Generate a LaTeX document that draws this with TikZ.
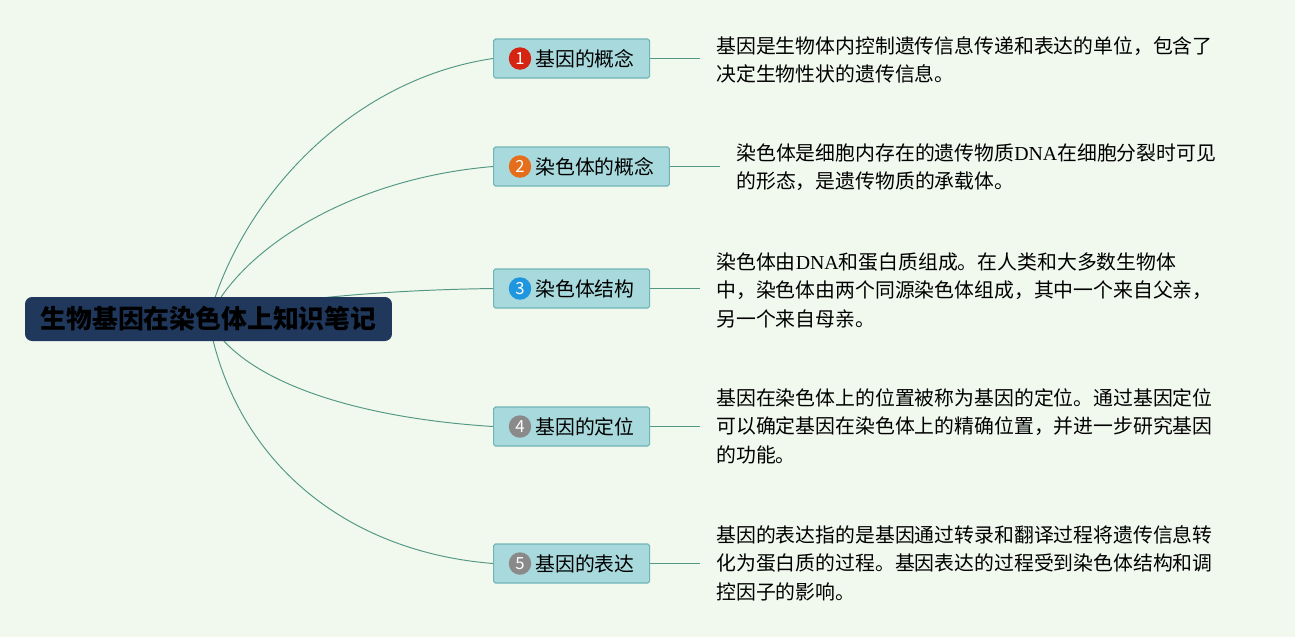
\documentclass[tikz,border=0pt]{standalone}
\usepackage{fontspec}
\setmainfont{Noto Sans CJK SC}
\newfontfamily\latinserif{Liberation Serif}
\usepackage{xcolor}
\usetikzlibrary{positioning,calc,backgrounds}
\definecolor{bgcolor}{RGB}{241,249,239}
\definecolor{rootcolor}{RGB}{31,56,92}
\definecolor{topiccolor}{RGB}{168,217,220}
\definecolor{topicborder}{RGB}{112,180,182}
\definecolor{linkcolor}{RGB}{84,152,132}
\definecolor{badgered}{RGB}{214,36,18}
\definecolor{badgeorange}{RGB}{228,110,28}
\definecolor{badgeblue}{RGB}{32,150,222}
\definecolor{badgegray}{RGB}{138,138,138}
\newcommand{\DNA}{{\latinserif DNA}}

\begin{document}
\begin{tikzpicture}[
    x=0.02cm, y=-0.02cm,
    root/.style={rectangle, fill=rootcolor, rounded corners=4pt, minimum width=7.34cm, minimum height=0.88cm, inner sep=0pt, font=\fontsize{14.7}{17}\selectfont\bfseries},
    topic/.style={rectangle, draw=topicborder, fill=topiccolor, line width=0.6pt, rounded corners=1pt, minimum height=0.78cm, inner xsep=8.5pt, inner ysep=0pt, anchor=west, font=\fontsize{11.3}{13}\selectfont},
    badge/.style={circle, fill=#1, minimum size=0.45cm, inner sep=0pt, text=white, font=\fontsize{9.5}{10}\selectfont},
    note/.style={anchor=north west, align=left, inner sep=0pt, font=\fontsize{11.3}{16.3}\selectfont},
    branch/.style={draw=linkcolor, line width=0.55pt},
    lead/.style={branch, shorten >=0.32cm}
]
    \useasboundingbox (0,0) rectangle (1295,637);

    % central topic
    \node[root] (root) at (208.5,319) {生物基因在染色体上知识笔记};

    % main topics
    \node[topic] (t1) at (493,58.5) {\hspace*{15.3pt}基因的概念};
    \node[topic] (t2) at (493,166.5) {\hspace*{15.3pt}染色体的概念};
    \node[topic] (t3) at (493,288.5) {\hspace*{15.3pt}染色体结构};
    \node[topic] (t4) at (493,426.5) {\hspace*{15.3pt}基因的定位};
    \node[topic] (t5) at (493,563.5) {\hspace*{15.3pt}基因的表达};

    \node[badge=badgered] (b1) at ([xshift=0.54cm]t1.west) {1};
    \node[badge=badgeorange] (b2) at ([xshift=0.54cm]t2.west) {2};
    \node[badge=badgeblue] (b3) at ([xshift=0.54cm]t3.west) {3};
    \node[badge=badgegray] (b4) at ([xshift=0.54cm]t4.west) {4};
    \node[badge=badgegray] (b5) at ([xshift=0.54cm]t5.west) {5};

    % notes
    \node[note] (d1) at (716,36) {基因是生物体内控制遗传信息传递和表达的单位，包含了\\决定生物性状的遗传信息。};
    \node[note] (d2) at (736,143) {染色体是细胞内存在的遗传物质\DNA{}在细胞分裂时可见\\的形态，是遗传物质的承载体。};
    \node[note] (d3) at (716,252) {染色体由\DNA{}和蛋白质组成。在人类和大多数生物体\\中，染色体由两个同源染色体组成，其中一个来自父亲，\\另一个来自母亲。};
    \node[note] (d4) at (716,388) {基因在染色体上的位置被称为基因的定位。通过基因定位\\可以确定基因在染色体上的精确位置，并进一步研究基因\\的功能。};
    \node[note] (d5) at (716,525) {基因的表达指的是基因通过转录和翻译过程将遗传信息转\\化为蛋白质的过程。基因表达的过程受到染色体结构和调\\控因子的影响。};

    \begin{scope}[on background layer]
        \fill[bgcolor] (0,0) rectangle (1295,637);
        \draw[branch] (root.center) .. controls +(32,-120) and +(-143,21) .. (t1.west);
        \draw[branch] (root.center) .. controls +(32,-70) and +(-143,12) .. (t2.west);
        \draw[branch] (root.center) .. controls +(32,-14) and +(-143,2) .. (t3.west);
        \draw[branch] (root.center) .. controls +(30,60) and +(-143,-9) .. (t4.west);
        \draw[branch] (root.center) .. controls +(25,140) and +(-150,-12) .. (t5.west);
    \end{scope}

    \draw[lead] (t1.east) -- (t1.east -| d1.west);
    \draw[lead] (t2.east) -- (t2.east -| d2.west);
    \draw[lead] (t3.east) -- (t3.east -| d3.west);
    \draw[lead] (t4.east) -- (t4.east -| d4.west);
    \draw[lead] (t5.east) -- (t5.east -| d5.west);
\end{tikzpicture}
\end{document}
